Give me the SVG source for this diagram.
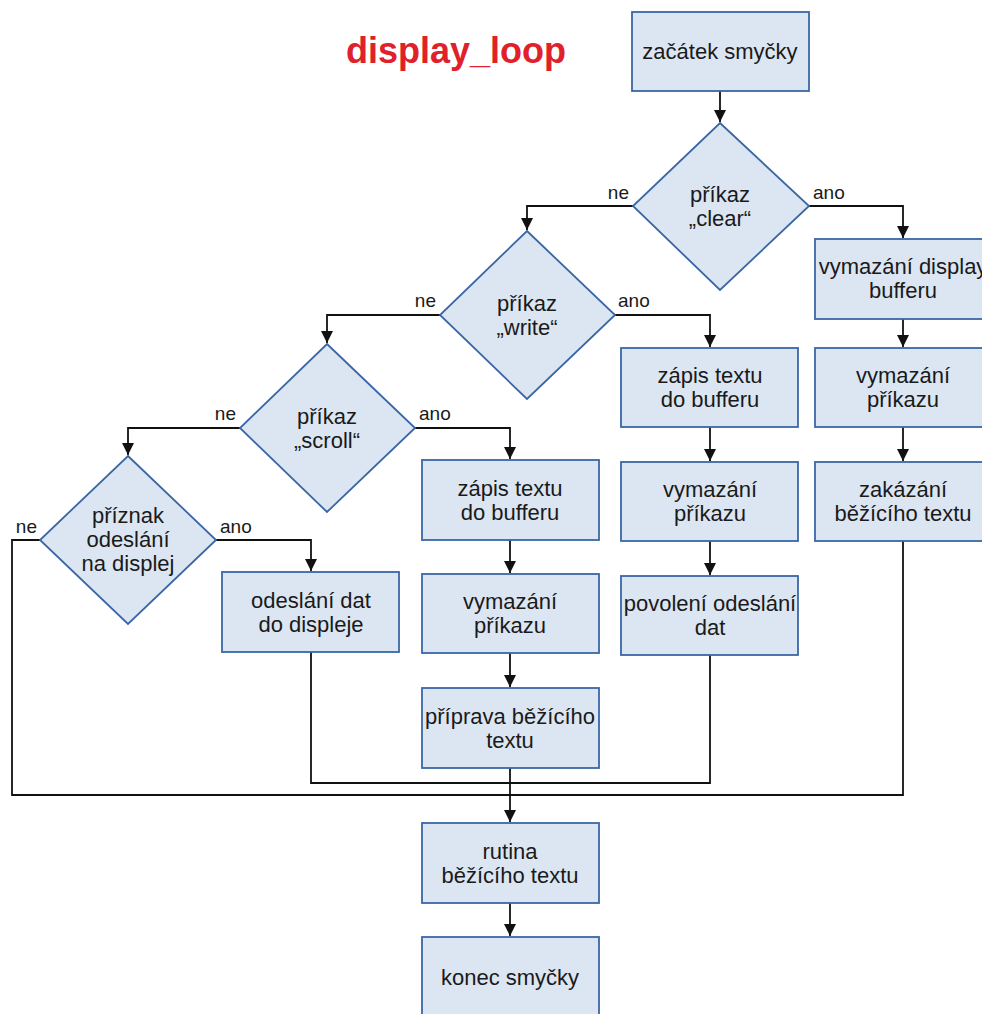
<svg xmlns="http://www.w3.org/2000/svg" width="982" height="1014" viewBox="0 0 982 1014">
  <style>
    .box { fill: #dce6f2; stroke: #3a66a6; stroke-width: 1.8; }
    .txt { font-family: "Liberation Sans", Arial, sans-serif; font-size: 22px; fill: #1a1a1a; text-anchor: middle; }
    .lbl { font-family: "Liberation Sans", Arial, sans-serif; font-size: 19px; fill: #1a1a1a; }
    .end { text-anchor: end; }
    .edge { fill: none; stroke: #111; stroke-width: 1.8; }
    .title { font-family: "Liberation Sans", Arial, sans-serif; font-size: 36px; font-weight: bold; fill: #e0202a; text-anchor: middle; }
  </style>
  <defs>
    <marker id="arrow" markerUnits="userSpaceOnUse" markerWidth="13" markerHeight="12" refX="12" refY="6" orient="auto">
      <path d="M0,0 L12,6 L0,12 z" fill="#111"/>
    </marker>
  </defs>
  <rect width="982" height="1014" fill="#ffffff"/>

  <text class="title" x="456" y="63">display_loop</text>

  <!-- connectors -->
  <g id="connectors">
    <path class="edge" d="M720,91 V122" marker-end="url(#arrow)"/>
    <path class="edge" d="M633,206 H527 V230" marker-end="url(#arrow)"/>
    <path class="edge" d="M809,206 H903 V238" marker-end="url(#arrow)"/>
    <path class="edge" d="M903,319 V347" marker-end="url(#arrow)"/>
    <path class="edge" d="M903,427 V461" marker-end="url(#arrow)"/>
    <path class="edge" d="M440,315 H327 V343" marker-end="url(#arrow)"/>
    <path class="edge" d="M615,315 H710 V347" marker-end="url(#arrow)"/>
    <path class="edge" d="M710,427 V461" marker-end="url(#arrow)"/>
    <path class="edge" d="M710,541 V575" marker-end="url(#arrow)"/>
    <path class="edge" d="M240,428 H128 V455" marker-end="url(#arrow)"/>
    <path class="edge" d="M415,428 H510 V459" marker-end="url(#arrow)"/>
    <path class="edge" d="M510,540 V573" marker-end="url(#arrow)"/>
    <path class="edge" d="M510,653 V687" marker-end="url(#arrow)"/>
    <path class="edge" d="M216,540 H311 V571" marker-end="url(#arrow)"/>
    <path class="edge" d="M40,540 H12 V795 H903 V541"/>
    <path class="edge" d="M311,652 V783 H710 V655"/>
    <path class="edge" d="M510,768 V822" marker-end="url(#arrow)"/>
    <path class="edge" d="M510,903 V936" marker-end="url(#arrow)"/>
  </g>

  <!-- branch labels -->
  <g id="labels">
    <text class="lbl end" x="629" y="199">ne</text>
    <text class="lbl" x="813" y="199">ano</text>
    <text class="lbl end" x="436" y="307">ne</text>
    <text class="lbl" x="618" y="307">ano</text>
    <text class="lbl end" x="236" y="420">ne</text>
    <text class="lbl" x="419" y="420">ano</text>
    <text class="lbl end" x="37" y="533">ne</text>
    <text class="lbl" x="220" y="533">ano</text>
  </g>

  <g id="start">
    <rect class="box" x="632" y="12" width="177" height="79"/>
    <text class="txt" x="720" y="59">začátek smyčky</text>
  </g>

  <g id="cmd-clear">
    <polygon class="box" points="720,123 809,206 720,290 633,206"/>
    <text class="txt" x="720" y="202">příkaz</text>
    <text class="txt" x="720" y="226">„clear“</text>
  </g>

  <g id="clear-buffer">
    <rect class="box" x="815" y="239" width="177" height="80"/>
    <text class="txt" x="903" y="274">vymazání display</text>
    <text class="txt" x="903" y="298">bufferu</text>
  </g>

  <g id="clear-cmd-1">
    <rect class="box" x="815" y="348" width="177" height="79"/>
    <text class="txt" x="903" y="383">vymazání</text>
    <text class="txt" x="903" y="407">příkazu</text>
  </g>

  <g id="disable-scroll">
    <rect class="box" x="815" y="462" width="177" height="79"/>
    <text class="txt" x="903" y="497">zakázání</text>
    <text class="txt" x="903" y="521">běžícího textu</text>
  </g>

  <g id="cmd-write">
    <polygon class="box" points="527,231 615,315 527,399 440,315"/>
    <text class="txt" x="527" y="311">příkaz</text>
    <text class="txt" x="527" y="335">„write“</text>
  </g>

  <g id="write-buffer-1">
    <rect class="box" x="621" y="348" width="177" height="79"/>
    <text class="txt" x="710" y="383">zápis textu</text>
    <text class="txt" x="710" y="407">do bufferu</text>
  </g>

  <g id="clear-cmd-2">
    <rect class="box" x="621" y="462" width="177" height="79"/>
    <text class="txt" x="710" y="497">vymazání</text>
    <text class="txt" x="710" y="521">příkazu</text>
  </g>

  <g id="enable-send">
    <rect class="box" x="621" y="576" width="177" height="79"/>
    <text class="txt" x="710" y="611">povolení odeslání</text>
    <text class="txt" x="710" y="635">dat</text>
  </g>

  <g id="cmd-scroll">
    <polygon class="box" points="327,344 415,428 327,512 240,428"/>
    <text class="txt" x="327" y="424">příkaz</text>
    <text class="txt" x="327" y="448">„scroll“</text>
  </g>

  <g id="write-buffer-2">
    <rect class="box" x="422" y="460" width="177" height="80"/>
    <text class="txt" x="510" y="496">zápis textu</text>
    <text class="txt" x="510" y="520">do bufferu</text>
  </g>

  <g id="clear-cmd-3">
    <rect class="box" x="422" y="574" width="177" height="79"/>
    <text class="txt" x="510" y="609">vymazání</text>
    <text class="txt" x="510" y="633">příkazu</text>
  </g>

  <g id="prepare-scroll">
    <rect class="box" x="422" y="688" width="177" height="80"/>
    <text class="txt" x="510" y="724">příprava běžícího</text>
    <text class="txt" x="510" y="748">textu</text>
  </g>

  <g id="send-flag">
    <polygon class="box" points="128,456 216,540 128,624 40,540"/>
    <text class="txt" x="128" y="523">příznak</text>
    <text class="txt" x="128" y="547">odeslání</text>
    <text class="txt" x="128" y="571">na displej</text>
  </g>

  <g id="send-data">
    <rect class="box" x="222" y="572" width="177" height="80"/>
    <text class="txt" x="311" y="608">odeslání dat</text>
    <text class="txt" x="311" y="632">do displeje</text>
  </g>

  <g id="scroll-routine">
    <rect class="box" x="422" y="823" width="177" height="80"/>
    <text class="txt" x="510" y="859">rutina</text>
    <text class="txt" x="510" y="883">běžícího textu</text>
  </g>

  <g id="end">
    <rect class="box" x="422" y="937" width="177" height="80"/>
    <text class="txt" x="510" y="985">konec smyčky</text>
  </g>
</svg>
